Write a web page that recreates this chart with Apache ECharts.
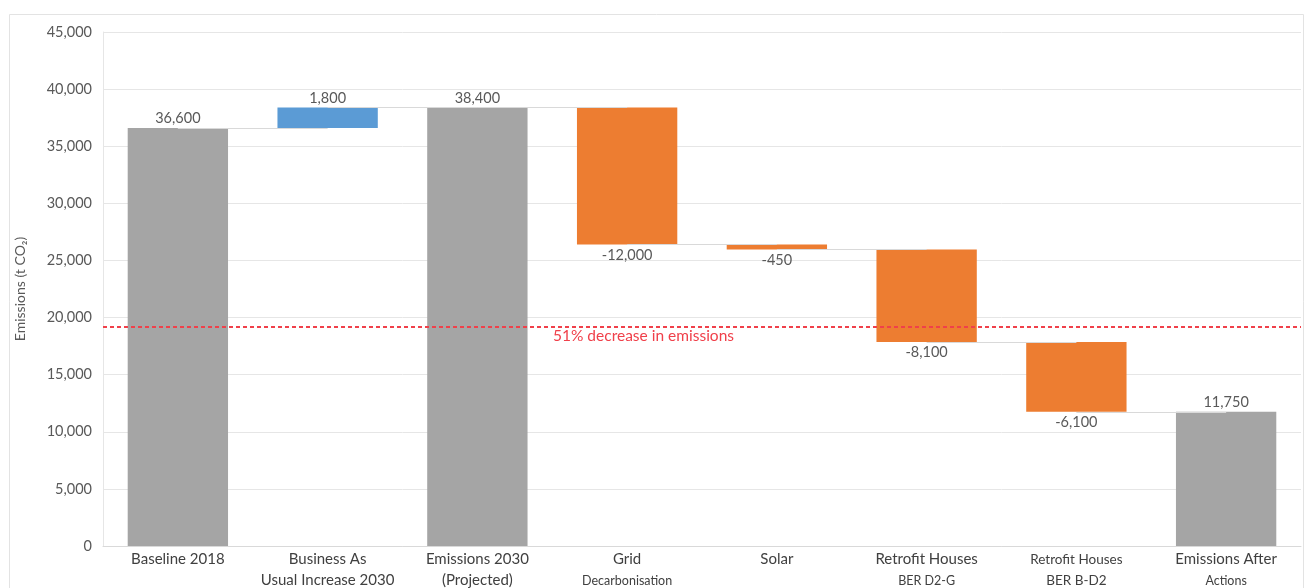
<!DOCTYPE html>
<html>
<head>
<meta charset="utf-8">
<script src="https://cdn.jsdelivr.net/npm/echarts@6/dist/echarts.min.js"></script>
<style>html,body{margin:0;padding:0;background:#fff;}#c{width:1311px;height:588px;}</style>
</head>
<body>
<div id="c"></div>
<script>
// ---- data ----
const categories = ['Baseline 2018', 'Business As\nUsual Increase 2030', 'Emissions 2030\n(Projected)', 'Grid\nDecarbonisation', 'Solar', 'Retrofit Houses\nBER D2-G', 'Retrofit Houses\nBER B-D2', 'Emissions After\nActions'];
const firstLineStyle = ['a', 'a', 'a', 'a', 'a', 'a', 'c', 'a'];
const secondLineStyle = ['a', 'a', 'a', 'b', 'a', 'b', 'c', 'b'];
const values = [36600, 1800, 38400, -12000, -450, -8100, -6100, 11750];
const kinds = ['total', 'increase', 'total', 'decrease', 'decrease', 'decrease', 'decrease', 'total'];
const targetValue = 19200;
const targetLabel = '51% decrease in emissions';
const yTicks = { min: 0, max: 45000, interval: 5000 };

// ---- derived waterfall pieces ----
const base = [], totals = [], incs = [], decs = [], levels = [];
let running = 0;
values.forEach((v, i) => {
  const k = kinds[i];
  if (k === 'total') {
    running = v; base.push(0); totals.push(v); incs.push('-'); decs.push('-');
  } else if (k === 'increase') {
    base.push(running); incs.push(v); totals.push('-'); decs.push('-'); running += v;
  } else {
    running += v; base.push(running); decs.push(-v); totals.push('-'); incs.push('-');
  }
  levels.push(running);
});
const connectors = [];
for (let i = 0; i < values.length - 1; i++) {
  connectors.push([{ coord: [i, levels[i]] }, { coord: [i + 1, levels[i]] }]);
}

const fmt = n => (n < 0 ? '-' : '') + Math.abs(n).toLocaleString('en-US');
const FONT = 'Lato';
const labelStyle = { color: '#595959', fontSize: 14.5, fontFamily: FONT };

const chart = echarts.init(document.getElementById('c'), null, { renderer: 'canvas' });
chart.setOption({
  animation: false,
  backgroundColor: '#fff',
  grid: { left: 103, right: 10, top: 32, bottom: 42 },
  graphic: [
    { type: 'rect', left: 7, top: 12, shape: { width: 1294, height: 590 }, style: { fill: 'none', stroke: '#E3E3E3', lineWidth: 1 }, z: -1 },
    { type: 'text', left: 553, top: 328, style: { text: targetLabel, fill: '#F0404A', fontSize: 15.5, fontFamily: FONT }, z: 10 }
  ],
  xAxis: {
    type: 'category',
    data: categories,
    axisTick: { show: false },
    axisLine: { lineStyle: { color: '#D9D9D9' } },
    axisLabel: {
      interval: 0,
      margin: 3,
      formatter: (val, idx) => {
        const parts = val.split('\n');
        if (parts.length === 1) return '{' + firstLineStyle[idx] + '|' + parts[0] + '}';
        return '{' + firstLineStyle[idx] + '|' + parts[0] + '}\n{' + secondLineStyle[idx] + '|' + parts[1] + '}';
      },
      rich: {
        a: { fontSize: 15, color: '#404040', fontFamily: FONT, lineHeight: 21 },
        b: { fontSize: 12.5, color: '#404040', fontFamily: FONT, lineHeight: 21 },
        c: { fontSize: 13.5, color: '#404040', fontFamily: FONT, lineHeight: 21 }
      }
    }
  },
  yAxis: {
    type: 'value',
    min: yTicks.min, max: yTicks.max, interval: yTicks.interval,
    name: 'Emissions (t CO₂)',
    nameLocation: 'middle',
    nameGap: 76,
    nameTextStyle: { color: '#595959', fontSize: 14, fontFamily: FONT },
    axisLine: { show: true, lineStyle: { color: '#E6E6E6' } },
    axisLabel: { color: '#595959', fontSize: 14.5, fontFamily: FONT, margin: 11, formatter: v => v.toLocaleString('en-US') },
    splitLine: { lineStyle: { color: '#E6E6E6' } }
  },
  series: [
    {
      type: 'bar', stack: 'w', data: base, barCategoryGap: '33%',
      itemStyle: { color: 'transparent' }, silent: true, z: 1,
      markLine: {
        symbol: 'none', silent: true, label: { show: false },
        lineStyle: { color: '#D9D9D9', type: 'solid', width: 1 },
        data: connectors
      }
    },
    {
      type: 'bar', stack: 'w', data: totals, z: 3,
      itemStyle: { color: '#A5A5A5' },
      label: { show: true, position: 'top', distance: 2, ...labelStyle, formatter: p => fmt(values[p.dataIndex]) }
    },
    {
      type: 'bar', stack: 'w', data: incs, z: 3,
      itemStyle: { color: '#5B9BD5' },
      label: { show: true, position: 'top', distance: 2, ...labelStyle, formatter: p => fmt(values[p.dataIndex]) }
    },
    {
      type: 'bar', stack: 'w', data: decs, z: 3,
      itemStyle: { color: '#ED7D31' },
      label: { show: true, position: 'bottom', distance: 3, ...labelStyle, formatter: p => fmt(values[p.dataIndex]) },
      markLine: {
        symbol: 'none', silent: true,
        lineStyle: { color: '#F0404A', type: [4, 3], width: 2 },
        label: { show: false },
        data: [{ yAxis: targetValue }],
        z: 5
      }
    }
  ]
});
</script>
</body>
</html>
